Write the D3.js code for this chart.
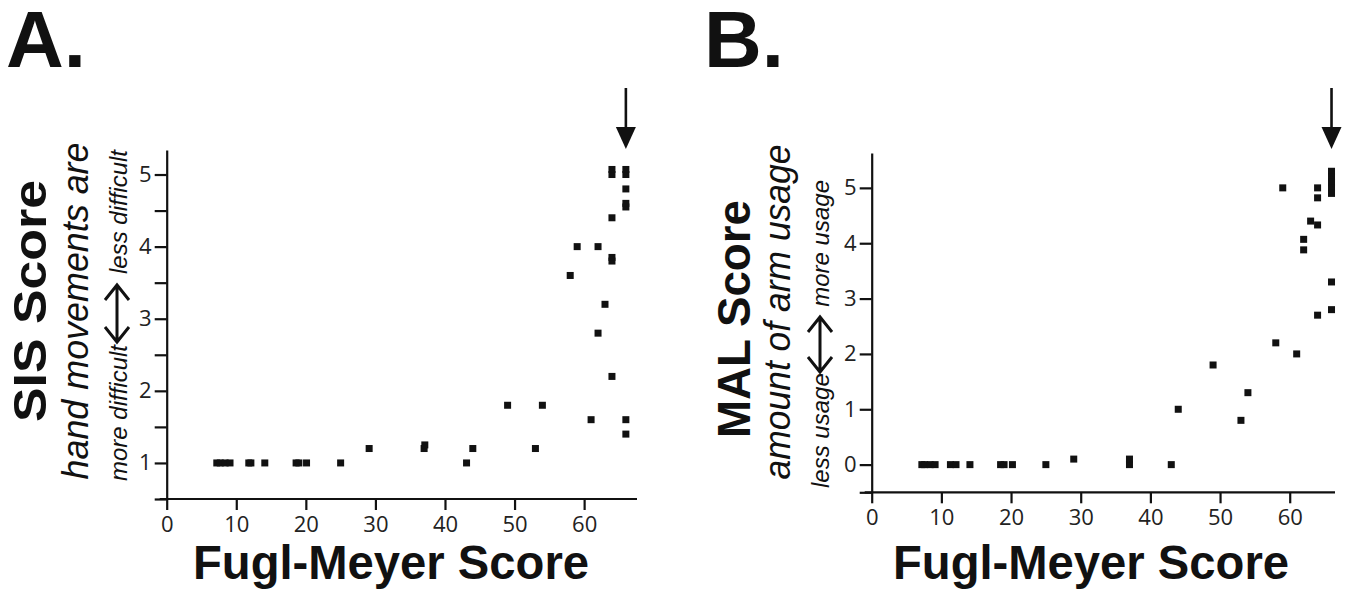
<!DOCTYPE html>
<html>
<head>
<meta charset="utf-8">
<script src="https://cdn.jsdelivr.net/npm/d3@7"></script>
<style>
  html, body { margin: 0; padding: 0; background: #fff; }
  svg { display: block; }
</style>
</head>
<body>
<svg id="chart" width="1355" height="597"></svg>
<script>
// ---- Data ----
// Panel A: Fugl-Meyer score vs SIS score
const sisFM    = [7.2, 7.7, 8.4, 9.1, 11.8, 12.1, 14.1, 18.6, 19, 20.1, 25, 29.1, 37, 37.1, 43.1, 44, 49, 53, 54, 58, 59, 61, 62, 62, 63, 64, 64, 64, 64, 64, 64, 66, 66, 66, 66, 66, 66, 66];
const sisScore = [1, 1, 1, 1, 1, 1, 1, 1, 1, 1, 1, 1.2, 1.2, 1.25, 1, 1.2, 1.8, 1.2, 1.8, 3.6, 4, 1.6, 4, 2.8, 3.2, 5.0, 5.07, 4.4, 3.8, 3.85, 2.2, 5.0, 5.07, 4.8, 4.55, 4.6, 1.6, 1.4];

// Panel B: Fugl-Meyer score vs MAL score
const malFM    = [7.2, 7.6, 8.4, 9.1, 11.3, 12.1, 14.1, 18.5, 19, 20.2, 25, 29, 37, 37, 43, 44, 49, 53, 54, 58, 59, 61, 62, 62, 63, 64, 64, 64, 64, 66, 66, 66, 66, 66, 66, 66];
const malScore = [0, 0, 0, 0, 0, 0, 0, 0, 0, 0, 0, 0.1, 0, 0.1, 0, 1, 1.8, 0.8, 1.3, 2.2, 5, 2, 4.07, 3.88, 4.4, 5, 4.82, 4.33, 2.7, 5.3, 5.2, 5.1, 5.0, 4.9, 3.3, 2.8];

// Tick values / labels
const xTicks     = [0, 10, 20, 30, 40, 50, 60];
const sisTicks   = [0.5, 1, 1.5, 2, 2.5, 3, 3.5, 4, 4.5, 5];
const malTicks   = [-0.5, 0, 1, 2, 3, 4, 5];
const arrowAtFM  = 66;

const svg = d3.select("#chart");
const INK = "#111";

function panel(cfg) {
  const x = d3.scaleLinear().domain(cfg.xDomain).range(cfg.xRange);
  const y = d3.scaleLinear().domain(cfg.yDomain).range(cfg.yRange);
  const g = svg.append("g");

  // x axis
  const xAxis = d3.axisBottom(x).tickValues(xTicks).tickSize(11).tickPadding(6)
    .tickSizeOuter(0).tickFormat(d3.format("d"));
  const gx = g.append("g").attr("transform", `translate(0,${cfg.yRange[0]})`).call(xAxis);

  // y axis
  const yAxis = d3.axisLeft(y).tickValues(cfg.yTicks).tickSize(12).tickPadding(3)
    .tickSizeOuter(0).tickFormat(d => Number.isInteger(d) ? d : "");
  const gy = g.append("g").attr("transform", `translate(${cfg.xRange[0]},0)`).call(yAxis);

  [gx, gy].forEach(a => {
    a.select(".domain").attr("stroke", INK).attr("stroke-width", 2.2);
    a.selectAll(".tick line").attr("stroke", INK).attr("stroke-width", 2.2);
    a.selectAll(".tick text")
      .attr("fill", "#222")
      .style("font-family", "'Open Sans', 'DejaVu Sans', sans-serif")
      .style("font-size", "22px");
  });
  // extend x-axis line slightly left of the y axis (as in reference)
  gx.select(".domain").attr("d", `M${cfg.xRange[0]-7},0H${cfg.xRange[1]}`);

  // points
  g.append("g").selectAll("rect")
    .data(cfg.xs.map((v, i) => [v, cfg.ys[i]]))
    .join("rect")
    .attr("x", d => x(d[0]) - 3.5)
    .attr("y", d => y(d[1]) - 3.5)
    .attr("width", 7).attr("height", 7)
    .attr("fill", INK);

  // arrow at FM = 66
  const ax = x(arrowAtFM);
  g.append("line").attr("x1", ax).attr("x2", ax).attr("y1", 88).attr("y2", 132)
    .attr("stroke", INK).attr("stroke-width", 2.6);
  g.append("path").attr("d", `M${ax-10},127L${ax+10},127L${ax},149Z`).attr("fill", INK);

  // panel letter
  g.append("text").attr("x", cfg.letterX).attr("y", 67).text(cfg.letter)
    .style("font-family", "'Liberation Sans', Arial, sans-serif")
    .style("font-weight", "bold").style("font-size", "80px").attr("fill", INK);

  // x title
  g.append("text").attr("x", cfg.xTitleX).attr("y", 579).attr("text-anchor", "middle")
    .text("Fugl-Meyer Score")
    .attr("textLength", 396).attr("lengthAdjust", "spacingAndGlyphs")
    .style("font-family", "'Liberation Sans', Arial, sans-serif")
    .style("font-weight", "bold").style("font-size", "48px").attr("fill", INK);

  // y titles (rotated)
  const rot = (tx, ty, txt, style, len, anchor) => {
    const t = g.append("text")
      .attr("transform", `translate(${tx},${ty}) rotate(-90)`)
      .attr("text-anchor", anchor || "middle")
      .text(txt)
      .style("font-family", "'Liberation Sans', Arial, sans-serif")
      .attr("fill", INK);
    Object.entries(style).forEach(([k, v]) => t.style(k, v));
    if (len) t.attr("textLength", len).attr("lengthAdjust", "spacingAndGlyphs");
    return t;
  };
  rot(cfg.t1x, cfg.t1y, cfg.t1, {"font-weight": "bold", "font-size": "46px"}, cfg.t1len);
  rot(cfg.t2x, cfg.t2y, cfg.t2, {"font-style": "italic", "font-size": "36px"}, cfg.t2len);
  rot(cfg.t3x, cfg.lowStart, cfg.low, {"font-style": "italic", "font-size": "24px"}, null, "start");
  rot(cfg.t3x, cfg.highEnd, cfg.high, {"font-style": "italic", "font-size": "24px"}, null, "end");

  // double arrow
  const cx = cfg.dax, y1 = cfg.day1, y2 = cfg.day2;
  g.append("path")
    .attr("d", `M${cx},${y1+1}V${y2-1}M${cx-12},${y1+15}L${cx},${y1}L${cx+12},${y1+15}M${cx-12},${y2-15}L${cx},${y2}L${cx+12},${y2-15}`)
    .attr("fill", "none").attr("stroke", INK).attr("stroke-width", 3);
}

panel({
  xs: sisFM, ys: sisScore,
  xDomain: [0, 67.6], xRange: [166.7, 637],
  yDomain: [0.5, 5.34], yRange: [499, 150],
  yTicks: sisTicks,
  letter: "A.", letterX: 6, xTitleX: 391,
  t1: "SIS Score", t1x: 46, t1y: 301, t1len: 242,
  t2: "hand movements are", t2x: 88, t2y: 311, t2len: 337,
  t3x: 127, low: "more difficult", lowStart: 481, high: "less difficult", highEnd: 150,
  dax: 117, day1: 285, day2: 342
});

panel({
  xs: malFM, ys: malScore,
  xDomain: [0, 66.5], xRange: [871.7, 1335],
  yDomain: [-0.5, 5.63], yRange: [492.3, 153],
  yTicks: malTicks,
  letter: "B.", letterX: 704, xTitleX: 1091,
  t1: "MAL Score", t1x: 750, t1y: 319, t1len: 238,
  t2: "amount of arm usage", t2x: 790, t2y: 312, t2len: 335,
  t3x: 829, low: "less usage", lowStart: 488, high: "more usage", highEnd: 180,
  dax: 820, day1: 317, day2: 372
});
</script>
</body>
</html>
